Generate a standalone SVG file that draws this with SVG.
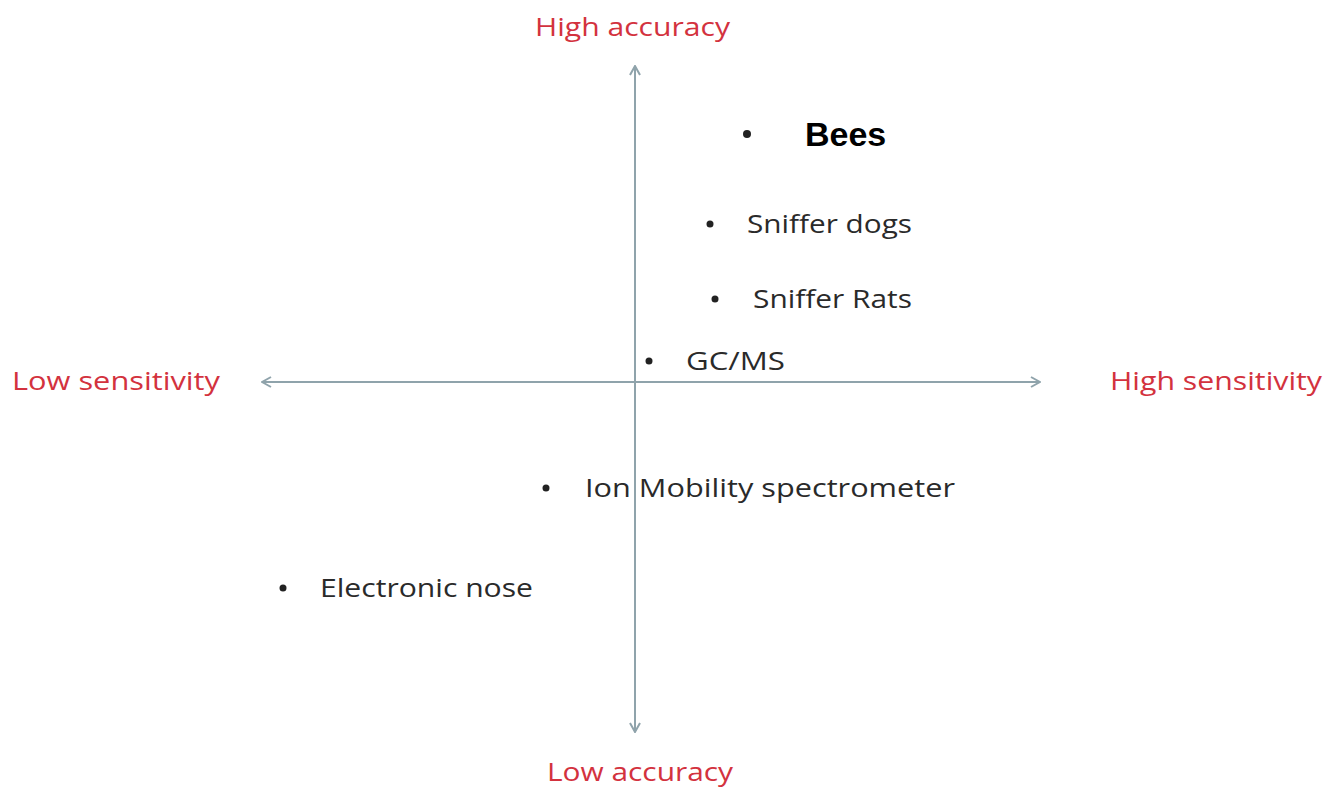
<svg xmlns="http://www.w3.org/2000/svg" width="1329" height="789" viewBox="0 0 1329 789">
<defs>
<style>
.lbl{font-family:"Open Sans",Lato,"Liberation Sans",sans-serif;font-size:26px;fill:#d3323e}
.itm{font-family:"Open Sans",Lato,"Liberation Sans",sans-serif;font-size:26px;fill:#2a2a2a}
.bul{fill:#222}
.ax{stroke:#8fa3ab;stroke-width:2;fill:none}
</style>
<marker id="chev" viewBox="0 0 12 12" refX="11" refY="6" markerWidth="12" markerHeight="12" markerUnits="userSpaceOnUse" orient="auto">
<path d="M2,1 L11,6 L2,11" fill="none" stroke="#8fa3ab" stroke-width="2"/>
</marker>
</defs>
<rect width="1329" height="789" fill="#fff"/>
<g id="connectors">
<line class="ax" x1="635" y1="732" x2="635" y2="66" marker-end="url(#chev)"/>
<line class="ax" x1="635" y1="66" x2="635" y2="732" marker-end="url(#chev)"/>
<line class="ax" x1="262" y1="382" x2="1040" y2="382" marker-end="url(#chev)"/>
<line class="ax" x1="1040" y1="382" x2="262" y2="382" marker-end="url(#chev)"/>
</g>
<g id="high-accuracy"><text class="lbl" x="535" y="36" textLength="195" lengthAdjust="spacingAndGlyphs">High accuracy</text></g>
<g id="low-accuracy"><text class="lbl" x="547" y="781" textLength="186" lengthAdjust="spacingAndGlyphs">Low accuracy</text></g>
<g id="low-sensitivity"><text class="lbl" x="12" y="390" textLength="208" lengthAdjust="spacingAndGlyphs">Low sensitivity</text></g>
<g id="high-sensitivity"><text class="lbl" x="1110" y="390" textLength="212" lengthAdjust="spacingAndGlyphs">High sensitivity</text></g>
<g id="bees"><circle class="bul" cx="747" cy="134" r="4"/><text x="805" y="146" style="font-family:'Liberation Sans',Arial,sans-serif;font-size:34px;font-weight:bold;fill:#000">Bees</text></g>
<g id="sniffer-dogs"><circle class="bul" cx="710" cy="224" r="3.5"/><text class="itm" x="747" y="233" textLength="165" lengthAdjust="spacingAndGlyphs">Sniffer dogs</text></g>
<g id="sniffer-rats"><circle class="bul" cx="715" cy="299" r="3.5"/><text class="itm" x="753" y="308" textLength="159" lengthAdjust="spacingAndGlyphs">Sniffer Rats</text></g>
<g id="gcms"><circle class="bul" cx="649" cy="361" r="3.5"/><text class="itm" x="686" y="370" textLength="99" lengthAdjust="spacingAndGlyphs">GC/MS</text></g>
<g id="ims"><circle class="bul" cx="546" cy="488" r="3.5"/><text class="itm" x="585" y="497" textLength="370" lengthAdjust="spacingAndGlyphs">Ion Mobility spectrometer</text></g>
<g id="enose"><circle class="bul" cx="283" cy="588" r="3.5"/><text class="itm" x="320" y="597" textLength="213" lengthAdjust="spacingAndGlyphs">Electronic nose</text></g>
</svg>
